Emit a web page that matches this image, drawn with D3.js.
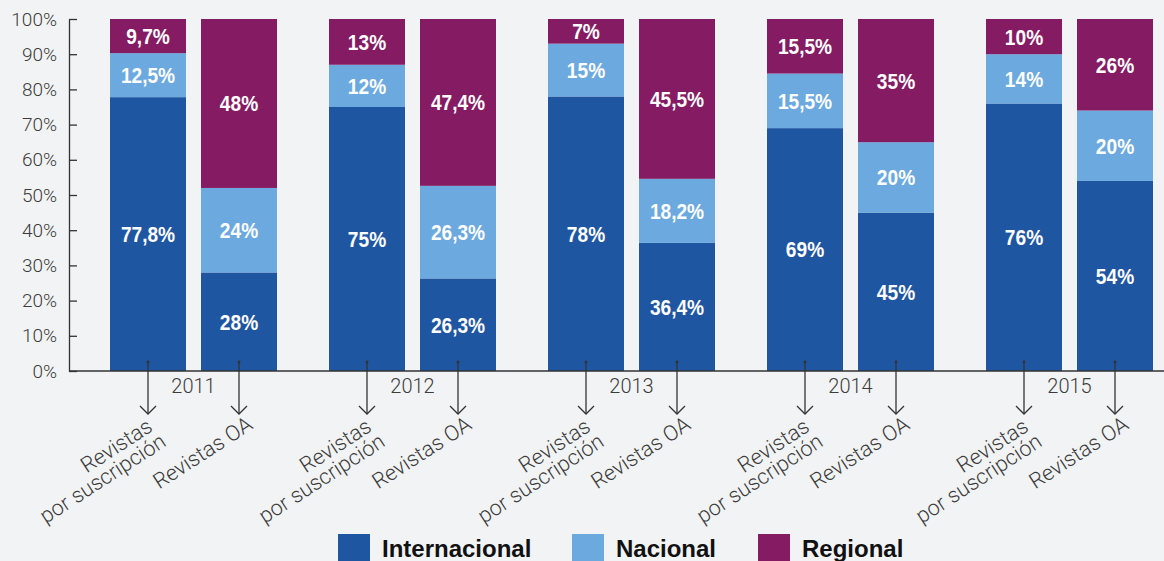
<!DOCTYPE html>
<html>
<head>
  <meta charset="utf-8">
  <title>Revistas por suscripción vs Revistas OA</title>
  <style>
    body { margin: 0; background: #f2f3f5; }
    svg { display: block; }
  </style>
</head>
<body>
  <div id="chart"></div>
<script type="text/javascript" src="https://d3js.org/d3.v7.min.js"></script>
<script type="text/javascript">
  // data
  var years = ["2011", "2012", "2013", "2014", "2015"];
  var types = ["sub", "oa"];
  var typeLabels = [["Revistas", "por suscripción"], ["Revistas OA"]];
  var seriesNames = ["Internacional", "Nacional", "Regional"];
  var seriesColors = ["#1f56a2", "#6ca9de", "#851b62"];

  var internacionalSub = [77.8, 75, 78, 69, 76];
  var internacionalOA  = [28, 26.3, 36.4, 45, 54];
  var nacionalSub      = [12.5, 12, 15, 15.5, 14];
  var nacionalOA       = [24, 26.3, 18.2, 20, 20];
  var regionalSub      = [9.7, 13, 7, 15.5, 10];
  var regionalOA       = [48, 47.4, 45.5, 35, 26];

  var yTicks = [0, 10, 20, 30, 40, 50, 60, 70, 80, 90, 100];

  // rows: one per bar
  var rows = [];
  years.forEach(function (y, i) {
    rows.push({ year: y, type: "sub", values: [internacionalSub[i], nacionalSub[i], regionalSub[i]] });
    rows.push({ year: y, type: "oa", values: [internacionalOA[i], nacionalOA[i], regionalOA[i]] });
  });

  var w = 1164;
  var h = 561;
  var axisX = 69;

  var svg = d3.select("#chart")
              .append("svg")
              .attr("width", w)
              .attr("height", h);

  svg.append("rect").attr("width", w).attr("height", h).attr("fill", "#f2f3f5");

  var y = d3.scaleLinear().domain([0, 100]).range([371, 19]).clamp(true);

  var x0 = d3.scaleBand()
             .domain(years)
             .range([84, 1179])
             .paddingInner(52 / 219)
             .paddingOuter(26 / 219);

  var x1 = d3.scaleBand()
             .domain(types)
             .range([0, x0.bandwidth()])
             .paddingInner(15 / 91)
             .paddingOuter(0);

  var lightFont = "Roboto, 'Liberation Sans', sans-serif";

  // bars
  var bars = svg.selectAll("g.bar")
                .data(rows)
                .enter()
                .append("g")
                .attr("class", "bar")
                .attr("transform", function (d) {
                  return "translate(" + (x0(d.year) + x1(d.type)) + ",0)";
                });

  bars.each(function (d) {
    var g = d3.select(this);
    var base = 0;
    d.values.forEach(function (v, k) {
      var lo = base, hi = base + v;
      base = hi;
      g.append("rect")
       .attr("x", 0)
       .attr("y", y(hi))
       .attr("width", x1.bandwidth())
       .attr("height", y(lo) - y(hi))
       .attr("fill", seriesColors[k]);
      // condensed look: squeeze the bold face horizontally
      var cy = (y(lo) + y(Math.min(hi, 100))) / 2;
      g.append("text")
       .text(String(v).replace(".", ",") + "%")
       .attr("transform", "translate(" + (x1.bandwidth() / 2) + "," + cy + ") scale(0.87,1)")
       .attr("dy", "0.36em")
       .attr("text-anchor", "middle")
       .attr("font-family", "'Liberation Sans', Arial, sans-serif")
       .attr("font-weight", "bold")
       .attr("font-size", "22px")
       .attr("fill", "white");
    });
  });

  // y axis
  var yAxis = svg.append("g")
                 .attr("transform", "translate(" + axisX + ",0)")
                 .call(d3.axisLeft(y)
                         .tickValues(yTicks)
                         .tickFormat(function (d) { return d + "%"; })
                         .tickSizeInner(-8)
                         .tickSizeOuter(0)
                         .tickPadding(12));
  yAxis.select(".domain").attr("stroke", "#333").attr("stroke-width", 1.3);
  yAxis.selectAll(".tick line").attr("stroke", "#333").attr("stroke-width", 1.3);
  yAxis.selectAll(".tick text")
       .attr("font-family", lightFont)
       .attr("font-weight", 300)
       .attr("font-size", "19px")
       .attr("fill", "#3c3c3c");

  // x axis line and years
  svg.append("line")
     .attr("x1", axisX).attr("x2", w)
     .attr("y1", y(0)).attr("y2", y(0))
     .attr("stroke", "#333").attr("stroke-width", 1.3);

  var xAxis = svg.append("g")
                 .attr("transform", "translate(0," + y(0) + ")")
                 .call(d3.axisBottom(x0).tickSize(0).tickPadding(8));
  xAxis.select(".domain").remove();
  xAxis.selectAll(".tick text")
       .attr("font-family", lightFont)
       .attr("font-weight", 300)
       .attr("font-size", "20px")
       .attr("fill", "#3c3c3c");

  // arrows and rotated labels
  var tipY = 414;
  bars.each(function (d) {
    var cx = x1.bandwidth() / 2;
    var g = d3.select(this);
    g.append("circle").attr("cx", cx).attr("cy", 362).attr("r", 1.4).attr("fill", "#333");
    g.append("line")
     .attr("x1", cx).attr("x2", cx)
     .attr("y1", 362).attr("y2", tipY)
     .attr("stroke", "#333").attr("stroke-width", 1.3);
    g.append("path")
     .attr("d", "M" + (cx - 8) + "," + (tipY - 8) + "L" + cx + "," + tipY + "L" + (cx + 8) + "," + (tipY - 8))
     .attr("fill", "none")
     .attr("stroke", "#333").attr("stroke-width", 1.3);

    var lines = typeLabels[types.indexOf(d.type)];
    var off = d.type === "oa" ? [15, 14] : [6, 16];
    var t = g.append("text")
             .attr("transform", "translate(" + (cx + off[0]) + "," + (tipY + off[1]) + ") rotate(-33)")
             .attr("text-anchor", "end")
             .attr("font-family", lightFont)
             .attr("font-weight", 300)
             .attr("font-size", "21.5px")
             .attr("fill", "#3c3c3c");
    lines.forEach(function (s, k) {
      t.append("tspan")
       .attr("x", k * 3)
       .attr("y", k * 20)
       .text(s);
    });
  });

  // legend
  var legendX = [338, 572, 758];
  var legend = svg.selectAll("g.legend")
                  .data(seriesNames)
                  .enter()
                  .append("g")
                  .attr("class", "legend")
                  .attr("transform", function (d, i) {
                    return "translate(" + legendX[i] + ",534)";
                  });
  legend.append("rect")
        .attr("width", 32)
        .attr("height", 30)
        .attr("fill", function (d, i) { return seriesColors[i]; });
  legend.append("text")
        .text(function (d) { return d; })
        .attr("x", 44)
        .attr("y", 23)
        .attr("font-family", "'Liberation Sans', Arial, sans-serif")
        .attr("font-weight", "bold")
        .attr("font-size", "24px")
        .attr("fill", "#111");
</script>
</body>
</html>
